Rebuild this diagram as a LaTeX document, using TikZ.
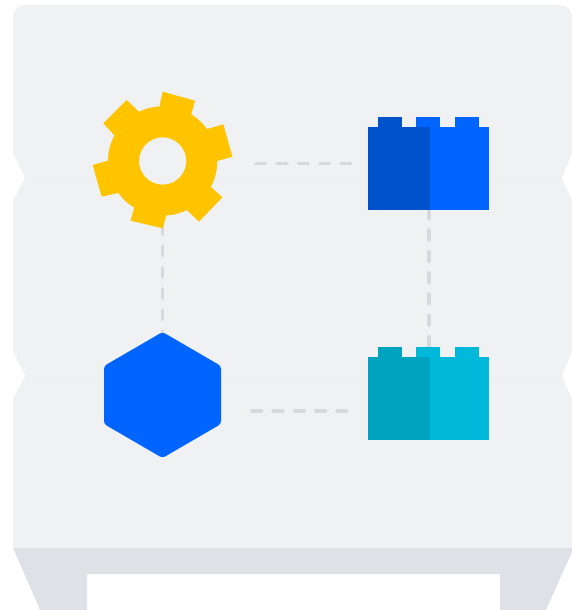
\documentclass[tikz,border=0pt]{standalone}
\definecolor{cabinet}{HTML}{F0F1F3}
\definecolor{seam}{HTML}{EEEFF1}
\definecolor{legs}{HTML}{DEE1E6}
\definecolor{gearc}{HTML}{FFC400}
\definecolor{blueL}{HTML}{0065FF}
\definecolor{blueD}{HTML}{0052CC}
\definecolor{tealL}{HTML}{00B8D9}
\definecolor{tealD}{HTML}{00A3BF}
\definecolor{dashc}{HTML}{D6D8DE}
\tikzset{
  link/.style={draw=dashc,line width=3.5pt,line cap=round,dash pattern=on 9.6pt off 11.7pt},
  anchorpt/.style={inner sep=0pt,minimum size=0pt}
}
\begin{document}
\begin{tikzpicture}[x=1pt,y=-1pt]
\useasboundingbox (0,0) rectangle (572,610);
% legs
\fill[legs] (13,548) -- (40,610) -- (87,610) -- (87,574) -- (500,574) -- (500,610) -- (546,610) -- (572,552) -- (572,548) -- cycle;
% cabinet
\fill[cabinet] (27,5) -- (558,5) .. controls (567,5) and (572,10) .. (572,18)
  -- (572,153) -- (562,178) -- (572,201) -- (572,351) -- (562,376) -- (572,399) -- (572,548)
  -- (13,548) -- (13,399) -- (25,376) -- (13,351) -- (13,201) -- (25,178) -- (13,153)
  -- (13,18) .. controls (13,10) and (18,5) .. (27,5) -- cycle;
\draw[seam,line width=0.6] (25,178) -- (562,178);
\draw[seam,line width=0.6] (25,376) -- (562,376);
% anchors
\node[anchorpt] (gearE) at (255.7,163.3) {};
\node[anchorpt] (brickW) at (352,163.3) {};
\node[anchorpt] (gearS) at (162.3,224.7) {};
\node[anchorpt] (hexN) at (162.3,336) {};
\node[anchorpt] (brickS) at (429,208.7) {};
\node[anchorpt] (tealN) at (429,348) {};
\node[anchorpt] (hexE) at (251.7,411) {};
\node[anchorpt] (tealW) at (347,411) {};
\draw[link] (gearE) -- (brickW);
\draw[link] (gearS) -- (hexN);
\draw[link] (brickS) -- (tealN);
\draw[link] (hexE) -- (tealW);
% gear
\begin{scope}[shift={(80,80)},x=0.3333pt,y=-0.3333pt]
\fill[gearc,even odd rule] (248,243) circle [radius=164] (248,243) circle [radius=71];
\fill[gearc] (248,35) -- (345,62) -- (332,110) -- (237,85) -- cycle;
\fill[gearc] (430,133) -- (457,230) -- (405,245) -- (378,148) -- cycle;
\fill[gearc] (427,352) -- (357,425) -- (318,388) -- (390,318) -- cycle;
\fill[gearc] (248,445) -- (152,422) -- (164,378) -- (260,402) -- cycle;
\fill[gearc] (65,350) -- (38,255) -- (90,240) -- (118,338) -- cycle;
\fill[gearc] (70,130) -- (140,60) -- (180,98) -- (105,168) -- cycle;
\end{scope}
% hexagon
\fill[blueL,rounded corners=3pt] (162.5,332) -- (221,366) -- (221,424) -- (162.5,458) -- (104,424) -- (104,366) -- cycle;
% blue brick
\fill[blueL] (368,127) rectangle (489,210);
\fill[blueD] (368,127) rectangle (430,210);
\fill[blueD] (378,117) rectangle (402,127);
\fill[blueL] (416,117) rectangle (440,127);
\fill[blueL] (455,117) rectangle (479,127);
% teal brick
\fill[tealL] (368,357) rectangle (489,440);
\fill[tealD] (368,357) rectangle (430,440);
\fill[tealD] (378,347) rectangle (402,357);
\fill[tealL] (416,347) rectangle (440,357);
\fill[tealL] (455,347) rectangle (479,357);
\end{tikzpicture}
\end{document}
